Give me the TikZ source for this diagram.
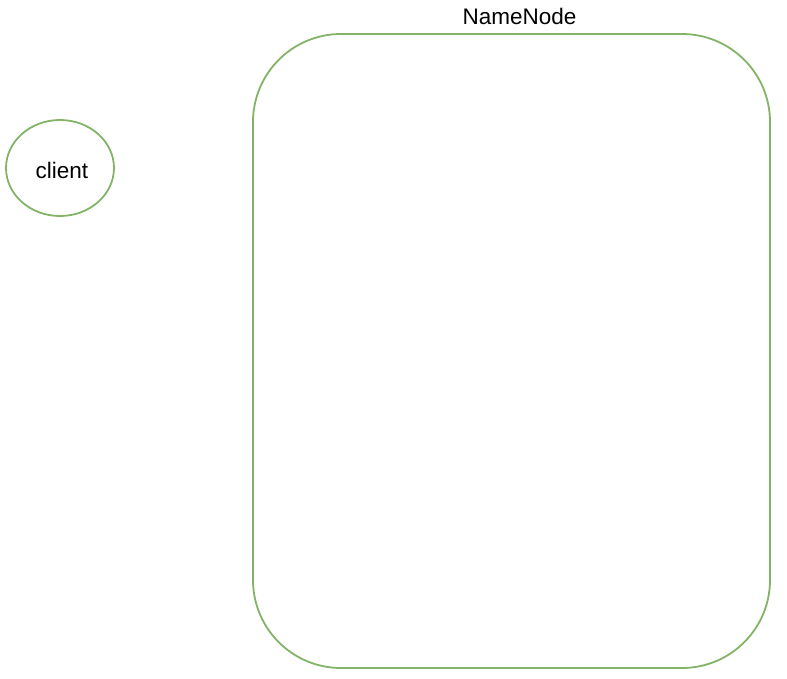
\documentclass[tikz,border=0pt]{standalone}
\usepackage{fontspec}
\setmainfont{Liberation Sans}
\usepackage{tikz}
\usetikzlibrary{shapes.geometric, positioning}
\definecolor{drawgreen}{HTML}{82B366}
\tikzstyle{bubble} = [ellipse, draw=drawgreen, line width=1.8pt, minimum width=108pt, minimum height=96pt, inner sep=0pt, font=\fontsize{22.5}{27}\selectfont]
\tikzstyle{frame} = [rectangle, rounded corners=88pt, draw=drawgreen, line width=1.8pt, minimum width=517pt, minimum height=634pt, inner sep=0pt]
\tikzstyle{caption} = [font=\fontsize{22.5}{27}\selectfont, inner sep=0pt]

\begin{document}
\begin{tikzpicture}[x=1pt, y=-1pt]
    \useasboundingbox (0,0) rectangle (787,678);

        % Nodes
        \node (client) [bubble, text depth=0pt, text height=21pt] at (60,168) {\hspace{4pt}client};
        \node (nameNode) [frame] at (511.5,351) {};
        \node (nameNodeLabel) [caption, above=8pt of nameNode.north, xshift=8pt] {NameNode};

        \end{tikzpicture}
\end{document}
